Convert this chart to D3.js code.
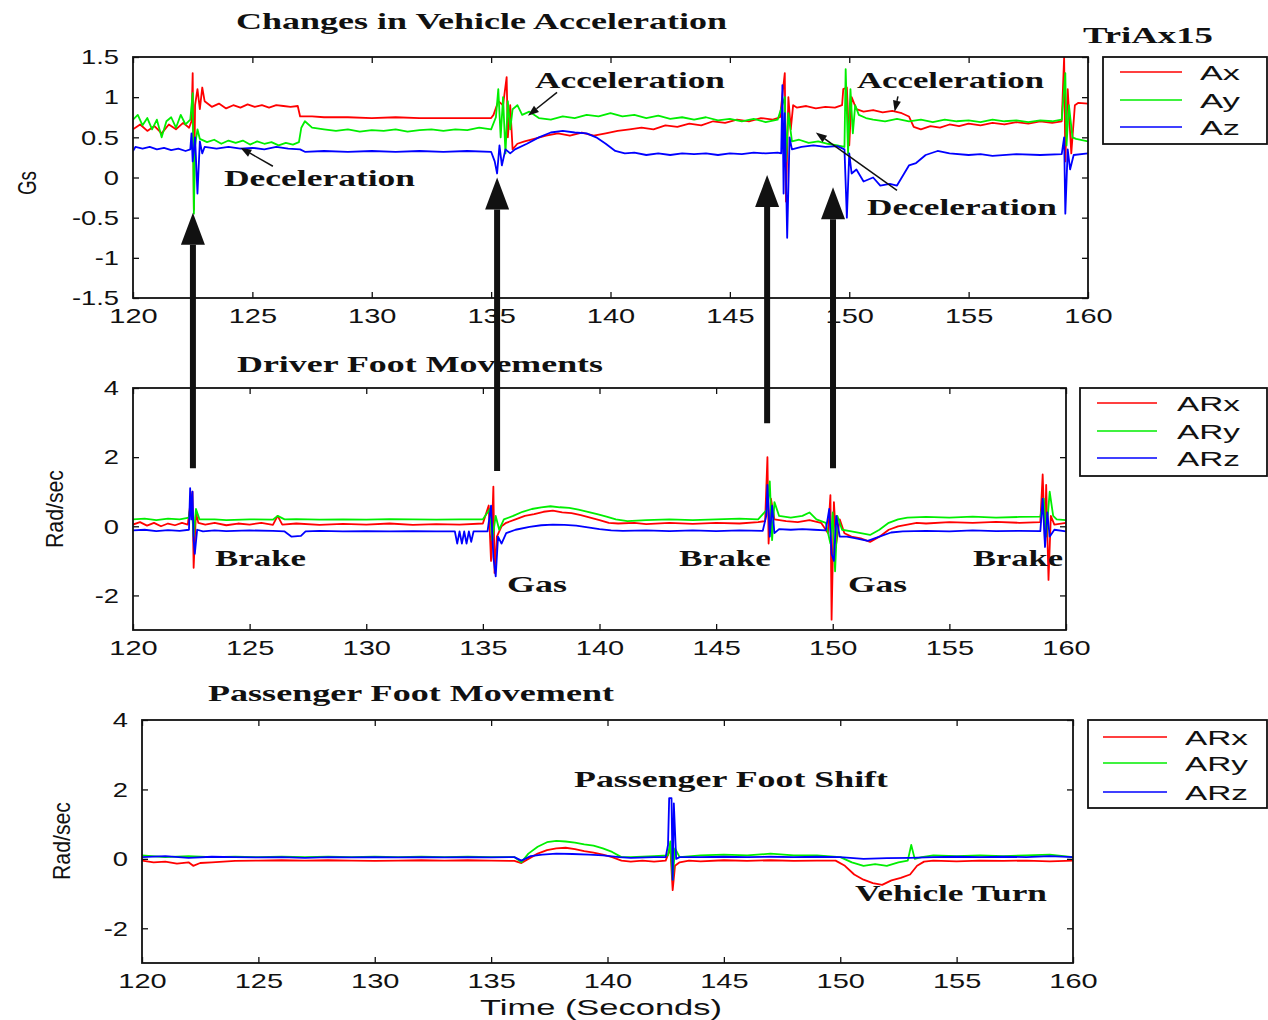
<!DOCTYPE html>
<html><head><meta charset="utf-8">
<script src="https://cdnjs.cloudflare.com/ajax/libs/d3/7.8.5/d3.min.js"></script>
<style>body{margin:0;background:#fff}svg{display:block}</style>
</head><body><svg id="c" width="1268" height="1020"></svg>
<script>
// ---------- DATA (time s, value) ----------
const xTicks = [120,125,130,135,140,145,150,155,160];
const yTicksGs = [-1.5,-1,-0.5,0,0.5,1,1.5];
const yTicksRad = [-2,0,2,4];
const legend1 = ["Ax","Ay","Az"];
const legend2 = ["ARx","ARy","ARz"];
const seriesColors = ["#ff0000","#00ee00","#0000ff"];

const accAx = [[120,0.6],[120.3,0.66],[120.6,0.58],[120.9,0.64],[121.2,0.55],[121.5,0.66],[121.8,0.6],[122.1,0.68],[122.35,0.62],[122.45,0.7],[122.5,1.3],[122.55,-0.4],[122.6,0.9],[122.7,1.1],[122.8,0.85],[122.9,1.12],[123.0,0.95],[123.3,0.88],[123.6,0.92],[123.9,0.86],[124.2,0.9],[124.5,0.87],[124.8,0.91],[125.1,0.88],[125.4,0.9],[125.7,0.87],[126.0,0.9],[126.3,0.89],[126.6,0.88],[126.9,0.89],[127.0,0.76],[127.5,0.76],[128,0.75],[129,0.75],[130,0.74],[131,0.75],[132,0.74],[133,0.74],[134,0.74],[135,0.74],[135.1,0.78],[135.3,0.95],[135.5,0.9],[135.65,1.25],[135.7,0.5],[135.8,0.9],[135.9,0.35],[136.1,0.42],[136.4,0.45],[136.8,0.48],[137.3,0.52],[137.8,0.55],[138.3,0.52],[138.8,0.56],[139.3,0.52],[139.8,0.55],[140.3,0.58],[140.8,0.6],[141.3,0.62],[141.8,0.6],[142.3,0.65],[142.8,0.63],[143.3,0.67],[143.8,0.65],[144.3,0.7],[144.8,0.68],[145.3,0.72],[145.8,0.7],[146.3,0.74],[146.8,0.72],[147.1,0.75],[147.3,1.3],[147.35,-0.3],[147.45,1.0],[147.55,0.6],[147.65,0.9],[147.8,0.87],[148.2,0.89],[148.6,0.86],[149,0.88],[149.4,0.87],[149.7,0.9],[149.75,1.1],[149.9,1.12],[150.0,0.4],[150.1,1.0],[150.3,0.85],[150.6,0.82],[151,0.84],[151.4,0.81],[151.8,0.83],[152.2,0.8],[152.5,0.76],[152.7,0.63],[153,0.6],[153.4,0.64],[153.8,0.62],[154.2,0.66],[154.6,0.64],[155,0.67],[155.5,0.65],[156,0.68],[156.5,0.66],[157,0.69],[157.5,0.67],[158,0.7],[158.5,0.68],[158.9,0.7],[159.0,1.5],[159.05,0.2],[159.15,1.1],[159.3,0.3],[159.45,0.9],[159.6,0.93],[160,0.92]];
const accAy = [[120,0.72],[120.2,0.78],[120.4,0.65],[120.6,0.74],[120.8,0.6],[121.0,0.72],[121.2,0.5],[121.4,0.7],[121.6,0.75],[121.8,0.62],[122.0,0.78],[122.2,0.66],[122.4,0.72],[122.5,1.05],[122.55,-0.45],[122.6,0.4],[122.7,0.6],[122.8,0.48],[123.1,0.44],[123.4,0.47],[123.7,0.42],[124.0,0.46],[124.3,0.43],[124.6,0.46],[124.9,0.41],[125.2,0.45],[125.5,0.42],[125.8,0.44],[126.1,0.4],[126.4,0.43],[126.7,0.41],[126.95,0.44],[127.05,0.62],[127.2,0.7],[127.5,0.62],[128,0.6],[128.5,0.58],[129,0.6],[129.5,0.57],[130,0.59],[130.5,0.58],[131,0.6],[131.5,0.57],[132,0.59],[132.5,0.6],[133,0.58],[133.5,0.6],[134,0.59],[134.5,0.62],[135,0.6],[135.2,0.75],[135.3,1.1],[135.4,0.5],[135.5,1.0],[135.6,0.3],[135.7,0.95],[135.8,0.6],[135.9,0.85],[136.1,0.9],[136.3,0.78],[136.6,0.82],[137,0.74],[137.5,0.72],[138,0.76],[138.5,0.74],[139,0.78],[139.5,0.76],[140,0.8],[140.5,0.76],[141,0.78],[141.5,0.74],[142,0.77],[142.5,0.73],[143,0.75],[143.5,0.72],[144,0.75],[144.5,0.71],[145,0.73],[145.5,0.7],[146,0.73],[146.5,0.69],[147,0.72],[147.3,1.0],[147.35,0.2],[147.45,0.8],[147.6,0.45],[147.9,0.47],[148.3,0.43],[148.7,0.45],[149.1,0.42],[149.5,0.4],[149.8,0.38],[149.85,1.35],[149.95,0.3],[150.05,1.1],[150.15,0.55],[150.25,0.9],[150.4,0.78],[150.7,0.74],[151,0.72],[151.5,0.7],[152,0.73],[152.5,0.7],[153,0.72],[153.5,0.69],[154,0.72],[154.5,0.7],[155,0.71],[155.5,0.69],[156,0.72],[156.5,0.7],[157,0.71],[157.5,0.69],[158,0.71],[158.5,0.7],[158.9,0.72],[159.05,1.3],[159.1,0.4],[159.2,0.9],[159.35,0.5],[159.5,0.48],[160,0.45]];
const accAz = [[120,0.33],[120.1,0.38],[120.4,0.36],[120.7,0.38],[121,0.35],[121.3,0.37],[121.6,0.34],[121.9,0.36],[122.2,0.33],[122.4,0.35],[122.45,0.55],[122.5,0.2],[122.6,0.5],[122.7,-0.2],[122.8,0.45],[122.9,0.3],[123,0.38],[123.5,0.36],[124,0.38],[124.5,0.36],[125,0.37],[125.5,0.35],[126,0.38],[126.5,0.36],[127,0.35],[127.2,0.32],[128,0.33],[129,0.32],[130,0.33],[131,0.32],[132,0.33],[133,0.32],[134,0.33],[135,0.32],[135.15,0.2],[135.25,0.05],[135.35,0.4],[135.45,0.15],[135.6,0.35],[135.8,0.3],[136,0.35],[136.5,0.42],[137,0.5],[137.5,0.56],[138,0.58],[138.5,0.56],[139,0.55],[139.4,0.5],[139.8,0.42],[140.2,0.33],[140.6,0.3],[141,0.31],[141.5,0.28],[142,0.3],[142.5,0.28],[143,0.3],[143.5,0.29],[144,0.3],[144.5,0.28],[145,0.3],[145.5,0.29],[146,0.31],[146.5,0.3],[147,0.31],[147.15,0.3],[147.2,1.15],[147.25,-0.2],[147.3,0.8],[147.4,-0.75],[147.5,0.5],[147.6,0.35],[148,0.38],[148.5,0.4],[149,0.38],[149.5,0.39],[149.8,0.35],[149.9,-0.5],[150.0,0.3],[150.1,0.05],[150.3,0.1],[150.6,-0.05],[151,0.0],[151.3,-0.1],[151.7,-0.08],[152,-0.1],[152.3,0.05],[152.5,0.15],[152.8,0.18],[153.2,0.28],[153.7,0.33],[154.2,0.3],[155,0.28],[155.5,0.29],[156,0.27],[157,0.29],[158,0.28],[158.9,0.29],[159.0,0.5],[159.05,-0.45],[159.15,0.35],[159.25,0.1],[159.4,0.28],[160,0.3]];

const drvRx = [[120,0.05],[120.3,0.12],[120.6,0.02],[120.9,0.1],[121.2,0.0],[121.5,0.08],[121.8,0.03],[122.1,0.1],[122.35,0.05],[122.45,0.6],[122.55,1.0],[122.6,-1.2],[122.7,0.4],[122.8,0.1],[123.1,0.05],[123.5,0.1],[124,0.03],[124.5,0.08],[125,0.05],[125.5,0.1],[126,0.04],[126.2,0.3],[126.4,0.05],[127,0.08],[128,0.04],[129,0.07],[130,0.05],[131,0.08],[132,0.04],[133,0.06],[134,0.05],[135,0.08],[135.25,0.6],[135.35,-1.0],[135.45,1.15],[135.5,-1.35],[135.6,-0.3],[135.8,0.0],[136,0.1],[136.4,0.2],[136.8,0.3],[137.2,0.35],[137.6,0.42],[138,0.45],[138.4,0.4],[138.8,0.38],[139.2,0.32],[139.6,0.25],[140,0.18],[140.4,0.1],[140.8,0.08],[141.5,0.1],[142,0.06],[143,0.1],[144,0.07],[145,0.1],[146,0.08],[146.8,0.12],[147.1,0.15],[147.2,2.0],[147.25,-0.5],[147.35,0.8],[147.5,0.2],[148,0.15],[148.5,0.12],[149,0.18],[149.5,0.1],[149.8,-0.2],[149.9,0.9],[149.95,-2.7],[150.05,0.7],[150.15,-0.5],[150.3,0.2],[150.5,-0.2],[150.8,-0.3],[151.2,-0.35],[151.6,-0.45],[152,-0.3],[152.4,-0.1],[152.8,0.0],[153.2,0.05],[153.6,0.1],[154,0.08],[155,0.12],[156,0.1],[157,0.13],[158,0.1],[158.9,0.12],[159.0,1.5],[159.1,-0.5],[159.15,1.2],[159.25,-1.55],[159.35,0.3],[159.5,0.05],[160,0.1]];
const drvRy = [[120,0.2],[120.5,0.22],[121,0.18],[121.5,0.22],[122,0.2],[122.4,0.25],[122.5,0.8],[122.6,-0.3],[122.7,0.5],[122.85,0.2],[123.5,0.2],[124,0.18],[125,0.2],[126,0.19],[126.2,0.3],[126.5,0.2],[127,0.21],[128,0.19],[129,0.2],[130,0.19],[131,0.21],[132,0.2],[133,0.19],[134,0.2],[135,0.2],[135.3,0.5],[135.4,-0.4],[135.55,0.3],[135.7,-0.1],[135.9,0.2],[136.3,0.3],[136.7,0.42],[137.1,0.5],[137.5,0.55],[137.9,0.58],[138.3,0.55],[138.7,0.53],[139.1,0.48],[139.5,0.42],[139.9,0.35],[140.3,0.28],[140.7,0.2],[141.2,0.15],[142,0.18],[143,0.2],[144,0.18],[145,0.2],[146,0.22],[146.8,0.2],[147.2,0.5],[147.3,1.3],[147.4,-0.4],[147.5,0.7],[147.7,0.3],[148.2,0.25],[148.7,0.3],[149,0.4],[149.3,0.2],[149.7,0.1],[149.9,-0.5],[150.0,0.4],[150.1,-1.3],[150.2,0.3],[150.4,-0.1],[150.8,-0.15],[151.2,-0.2],[151.6,-0.25],[152,-0.1],[152.4,0.1],[152.8,0.2],[153.2,0.25],[154,0.27],[155,0.25],[156,0.28],[157,0.25],[158,0.27],[158.9,0.28],[159.05,0.8],[159.15,-0.3],[159.3,1.0],[159.45,0.3],[159.6,0.2],[160,0.18]];
const drvRz = [[120,-0.12],[120.5,-0.1],[121,-0.14],[121.5,-0.11],[122,-0.13],[122.4,-0.1],[122.45,1.1],[122.5,0.2],[122.55,1.0],[122.6,-0.4],[122.65,-0.8],[122.75,-0.1],[123,-0.15],[123.5,-0.12],[124,-0.14],[125,-0.12],[126,-0.13],[126.5,-0.15],[126.8,-0.3],[127.2,-0.28],[127.4,-0.15],[128,-0.13],[129,-0.15],[130,-0.14],[131,-0.15],[132,-0.14],[133,-0.15],[133.8,-0.15],[133.9,-0.5],[134.0,-0.15],[134.1,-0.5],[134.2,-0.15],[134.3,-0.5],[134.4,-0.15],[134.5,-0.45],[134.6,-0.15],[135.2,-0.15],[135.35,0.6],[135.45,-0.9],[135.55,-1.45],[135.65,-0.3],[135.8,-0.5],[136,-0.2],[136.4,-0.1],[137,-0.02],[137.5,0.03],[138,0.05],[138.5,0.04],[139,0.02],[139.5,-0.03],[140,-0.08],[140.5,-0.12],[141,-0.13],[142,-0.12],[143,-0.14],[144,-0.12],[145,-0.14],[146,-0.12],[147,-0.13],[147.15,0.3],[147.2,1.2],[147.3,-0.3],[147.4,0.6],[147.5,-0.2],[147.7,-0.08],[148.2,-0.1],[148.7,-0.08],[149.2,-0.1],[149.7,-0.12],[149.85,0.5],[149.95,-0.8],[150.05,-1.0],[150.15,0.3],[150.3,-0.3],[150.6,-0.3],[151,-0.35],[151.5,-0.42],[152,-0.3],[152.5,-0.18],[153,-0.15],[154,-0.13],[155,-0.15],[156,-0.12],[157,-0.14],[158,-0.13],[158.9,-0.14],[159,0.8],[159.1,-0.6],[159.2,0.4],[159.3,-0.3],[159.5,-0.1],[160,-0.15]];

const psgRx = [[120,-0.05],[120.5,-0.1],[121,-0.08],[121.5,-0.14],[122,-0.1],[122.2,-0.2],[122.5,-0.12],[123,-0.1],[123.5,-0.08],[124,-0.06],[125,-0.05],[126,-0.04],[127,-0.05],[128,-0.04],[129,-0.05],[130,-0.06],[131,-0.05],[132,-0.04],[133,-0.05],[134,-0.04],[135,-0.05],[136,-0.06],[136.3,-0.12],[136.6,0.0],[137,0.15],[137.4,0.25],[137.8,0.3],[138.2,0.32],[138.6,0.28],[139,0.22],[139.4,0.18],[139.8,0.12],[140.2,0.05],[140.6,-0.05],[141,-0.08],[141.5,-0.05],[142,-0.08],[142.5,-0.05],[142.7,0.3],[142.8,-0.9],[142.9,-0.2],[143.1,-0.1],[143.5,-0.05],[144,-0.07],[145,-0.04],[146,-0.06],[147,-0.04],[148,-0.06],[149,-0.05],[149.8,-0.05],[150.2,-0.2],[150.6,-0.45],[151,-0.6],[151.4,-0.7],[151.8,-0.75],[152.2,-0.62],[152.6,-0.55],[153,-0.45],[153.3,-0.2],[153.6,-0.08],[154,-0.05],[155,-0.07],[156,-0.05],[157,-0.06],[158,-0.05],[159,-0.07],[160,-0.05]];
const psgRy = [[120,0.1],[121,0.05],[122,0.08],[123,0.05],[124,0.06],[125,0.05],[126,0.06],[127,0.05],[128,0.06],[129,0.05],[130,0.06],[131,0.05],[132,0.06],[133,0.05],[134,0.06],[135,0.05],[136,0.05],[136.3,-0.1],[136.6,0.15],[137,0.35],[137.4,0.48],[137.8,0.52],[138.2,0.5],[138.6,0.47],[139,0.42],[139.4,0.38],[139.8,0.3],[140.2,0.2],[140.6,0.05],[141,0.05],[142,0.08],[142.6,0.1],[142.7,0.5],[142.8,-0.6],[142.9,0.3],[143.1,0.05],[144,0.1],[145,0.12],[146,0.1],[147,0.15],[148,0.1],[149,0.1],[150,0.05],[150.5,-0.1],[151,-0.2],[151.5,-0.15],[152,-0.2],[152.5,-0.1],[152.9,-0.05],[153.05,0.4],[153.2,0.0],[153.5,0.05],[154,0.1],[155,0.08],[156,0.1],[157,0.08],[158,0.1],[159,0.12],[160,0.05]];
const psgRz = [[120,0.05],[121,0.08],[122,0.03],[123,0.06],[124,0.05],[125,0.04],[126,0.05],[127,0.03],[128,0.05],[129,0.04],[130,0.05],[131,0.04],[132,0.05],[133,0.04],[134,0.05],[135,0.04],[136,0.05],[136.3,-0.05],[136.7,0.08],[137.2,0.12],[137.8,0.15],[138.5,0.14],[139.2,0.12],[139.8,0.1],[140.5,0.05],[141,0.03],[142,0.05],[142.5,0.05],[142.6,0.4],[142.65,1.75],[142.75,1.75],[142.8,-0.6],[142.85,1.6],[142.95,0.0],[143.1,0.05],[144,0.05],[145,0.06],[146,0.05],[147,0.06],[148,0.05],[149,0.06],[150,0.05],[151,0.0],[152,0.02],[153,0.03],[154,0.05],[155,0.06],[156,0.05],[157,0.06],[158,0.05],[159,0.08],[160,0.05]];

// big event arrows: time, tip value (Gs panel), tail value (driver panel)
const eventArrows = [[122.51,-0.44,1.68],[135.25,0.0,1.6],[146.56,0.03,2.98],[149.32,-0.12,1.68]];
// small pointer arrows in Gs panel: [t0,v0,t1,v1] (tail -> head)
const pointerArrows = [[125.86,0.14,124.5,0.37],[137.76,1.06,136.54,0.77],[152.04,1.01,151.9,0.82],[152.0,-0.16,148.6,0.56]];

// ---------- LAYOUT ----------
const svg = d3.select("#c");
svg.append("rect").attr("width",1268).attr("height",1020).attr("fill","#fff");
const SANS = "'Liberation Sans', Arial, sans-serif";
const SERIF = "'Liberation Serif', 'Times New Roman', serif";

function txt(str, x, y, o){
  const t = svg.append("text").text(str).attr("x",x).attr("y",y)
    .attr("font-family", o.serif?SERIF:SANS).attr("font-size",o.size||21)
    .attr("font-weight", o.serif?"bold":"normal").attr("fill","#111")
    .attr("text-anchor", o.anchor||"start");
  if (o.len) t.attr("textLength",o.len).attr("lengthAdjust","spacingAndGlyphs");
  if (o.rot) t.attr("transform",`rotate(-90,${x},${y})`);
  return t;
}
function stretch(sel, k){
  sel.each(function(){ const w=this.getComputedTextLength(); d3.select(this).attr("textLength",w*k).attr("lengthAdjust","spacingAndGlyphs"); });
}

function panel(cfg){
  const x = d3.scaleLinear().domain([120,160]).range([cfg.l,cfg.r]);
  const y = d3.scaleLinear().domain(cfg.yd).range([cfg.b,cfg.t]);
  const g = svg.append("g");
  const id = "clip"+cfg.id;
  svg.append("clipPath").attr("id",id).append("rect").attr("x",cfg.l).attr("y",cfg.t).attr("width",cfg.r-cfg.l).attr("height",cfg.b-cfg.t);
  const line = d3.line().x(d=>x(d[0])).y(d=>y(d[1]));
  const lg = g.append("g").attr("clip-path",`url(#${id})`);
  cfg.series.forEach((s,i)=>{
    lg.append("path").datum(s).attr("d",line).attr("fill","none")
      .attr("stroke",seriesColors[i]).attr("stroke-width",1.8).attr("stroke-linejoin","round");
  });
  const fmt = d=>String(d);
  const ax = (gen,tr)=>{ const a=g.append("g").attr("transform",tr).call(gen); a.select(".domain").remove(); a.selectAll("line").attr("stroke","#111").attr("stroke-width",1.3); return a; };
  const bx = ax(d3.axisBottom(x).tickValues(xTicks).tickFormat(fmt).tickSizeInner(-6).tickSizeOuter(0).tickPadding(10), `translate(0,${cfg.b})`);
  bx.selectAll("text").attr("font-family",SANS).attr("font-size",21).attr("fill","#111").attr("dy","0.71em");
  stretch(bx.selectAll("text"),1.38);
  ax(d3.axisTop(x).tickValues(xTicks).tickFormat("").tickSizeInner(-6).tickSizeOuter(0), `translate(0,${cfg.t})`);
  const ly = ax(d3.axisLeft(y).tickValues(cfg.yt).tickFormat(fmt).tickSizeInner(-6).tickSizeOuter(0).tickPadding(14), `translate(${cfg.l},0)`);
  ly.selectAll("text").attr("font-family",SANS).attr("font-size",21).attr("fill","#111");
  stretch(ly.selectAll("text"),1.3);
  ax(d3.axisRight(y).tickValues(cfg.yt).tickFormat("").tickSizeInner(-6).tickSizeOuter(0), `translate(${cfg.r},0)`);
  g.append("rect").attr("x",cfg.l).attr("y",cfg.t).attr("width",cfg.r-cfg.l).attr("height",cfg.b-cfg.t)
    .attr("fill","none").attr("stroke","#111").attr("stroke-width",1.8);
  // legend
  const L = cfg.leg;
  svg.append("rect").attr("x",L.x0).attr("y",L.y0).attr("width",L.x1-L.x0).attr("height",L.y1-L.y0)
    .attr("fill","#fff").attr("stroke","#111").attr("stroke-width",1.8);
  cfg.names.forEach((n,i)=>{
    svg.append("line").attr("x1",L.lx0).attr("x2",L.lx1).attr("y1",L.ys[i]).attr("y2",L.ys[i])
      .attr("stroke",seriesColors[i]).attr("stroke-width",1.6);
    txt(n, L.tx, L.ys[i]+8, {size:21, len:L.tw});
  });
  return {x,y};
}

const P1 = panel({id:1,l:133,r:1088,t:57,b:298,yd:[-1.5,1.5],yt:yTicksGs,series:[accAx,accAy,accAz],names:legend1,
  leg:{x0:1103,x1:1267,y0:57,y1:144,lx0:1120,lx1:1182,ys:[72,100,127],tx:1200,tw:40}});
const P2 = panel({id:2,l:133,r:1066,t:388,b:630,yd:[-3,4],yt:yTicksRad,series:[drvRx,drvRy,drvRz],names:legend2,
  leg:{x0:1080,x1:1267,y0:388,y1:476,lx0:1097,lx1:1157,ys:[403,431,458],tx:1177,tw:63}});
const P3 = panel({id:3,l:142,r:1073,t:720,b:963,yd:[-3,4],yt:yTicksRad,series:[psgRx,psgRy,psgRz],names:legend2,
  leg:{x0:1088,x1:1267,y0:720,y1:808,lx0:1103,lx1:1167,ys:[737,763,792],tx:1185,tw:63}});

// titles & annotations
txt("Changes in Vehicle Acceleration",236,29,{serif:1,size:23,len:491});
txt("TriAx15",1083,43,{serif:1,size:23,len:130});
txt("Driver Foot Movements",237,372,{serif:1,size:23,len:366});
txt("Passenger Foot Movement",208,701,{serif:1,size:23,len:406});
txt("Acceleration",535,88,{serif:1,size:23,len:190});
txt("Acceleration",857,88,{serif:1,size:23,len:187});
txt("Deceleration",224,186,{serif:1,size:23,len:191});
txt("Deceleration",867,215,{serif:1,size:23,len:190});
txt("Brake",215,566,{serif:1,size:23,len:91});
txt("Gas",507,592,{serif:1,size:23,len:60});
txt("Brake",679,566,{serif:1,size:23,len:92});
txt("Gas",848,592,{serif:1,size:23,len:59});
txt("Brake",973,566,{serif:1,size:23,len:90});
txt("Passenger Foot Shift",574,787,{serif:1,size:23,len:314});
txt("Vehicle Turn",855,901,{serif:1,size:23,len:192});
txt("Gs",36,183,{size:25,anchor:"middle",rot:1,len:24});
txt("Rad/sec",63,509,{size:24,anchor:"middle",rot:1,len:78});
txt("Rad/sec",70,841,{size:24,anchor:"middle",rot:1,len:78});
txt("Time  (Seconds)",480,1015,{size:22,len:242});

// event arrows
eventArrows.forEach(([t,tipV,tailV])=>{
  const X = P1.x(t), tip = P1.y(tipV), tail = P2.y(tailV), hb = tip+32;
  svg.append("line").attr("x1",X).attr("x2",X).attr("y1",tail).attr("y2",hb).attr("stroke","#111").attr("stroke-width",6);
  svg.append("path").attr("d",`M${X},${tip}L${X-12},${hb}L${X+12},${hb}Z`).attr("fill","#111");
});
// pointer arrows
pointerArrows.forEach(([t0,v0,t1,v1])=>{
  const x0=P1.x(t0), y0=P1.y(v0), x1=P1.x(t1), y1=P1.y(v1);
  const a=Math.atan2(y1-y0,x1-x0), L=11, w=4;
  const bx=x1-L*Math.cos(a), by=y1-L*Math.sin(a);
  svg.append("line").attr("x1",x0).attr("y1",y0).attr("x2",bx).attr("y2",by).attr("stroke","#111").attr("stroke-width",1.5);
  svg.append("path").attr("d",`M${x1},${y1}L${bx-w*Math.sin(a)},${by+w*Math.cos(a)}L${bx+w*Math.sin(a)},${by-w*Math.cos(a)}Z`).attr("fill","#111");
});
</script></body></html>
